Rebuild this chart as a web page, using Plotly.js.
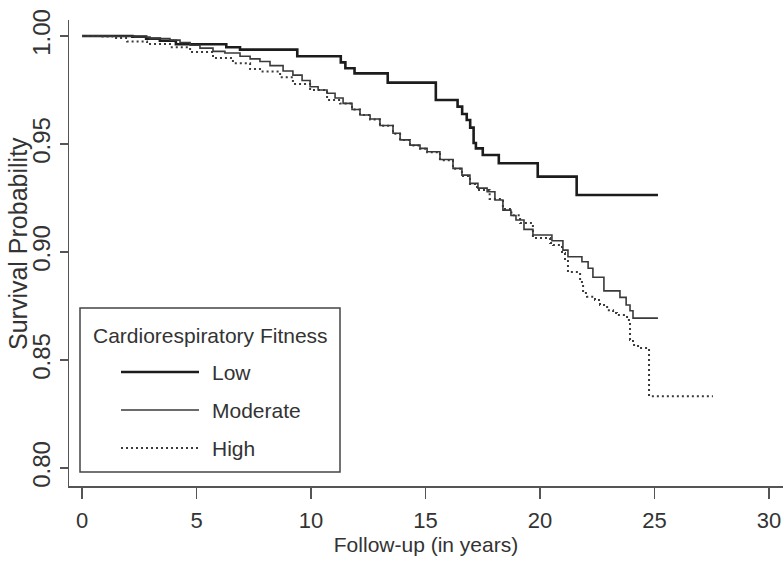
<!DOCTYPE html>
<html>
<head>
<meta charset="utf-8">
<script src="https://cdn.plot.ly/plotly-3.0.1.min.js"></script>
<style>
html,body{margin:0;padding:0;background:#fff;}
#chart{width:783px;height:564px;}
</style>
</head>
<body>
<div id="chart"></div>
<script>
// ---- Data ----
const seriesNames = ['Low', 'Moderate', 'High'];
const legendTitle = 'Cardiorespiratory Fitness';
const xTitle = 'Follow-up (in years)';
const yTitle = 'Survival Probability';

const xTickVals = [0, 5, 10, 15, 20, 25, 30];
const xTickText = ['0', '5', '10', '15', '20', '25', '30'];
const yTickVals = [0.80, 0.85, 0.90, 0.95, 1.00];
const yTickText = ['0.80', '0.85', '0.90', '0.95', '1.00'];

const lowTime = [0, 2.2, 2.8, 3.4, 4.1, 6.3, 6.9, 9.4, 11.3, 11.5, 11.9, 13.35, 15.45, 16.4, 16.6, 16.8, 16.95, 17.1, 17.2, 17.5, 18.2, 19.9, 21.6, 25.15];
const lowSurv = [1.000, 0.9997, 0.9988, 0.9978, 0.9962, 0.9948, 0.9937, 0.9906, 0.9878, 0.9851, 0.9827, 0.9784, 0.9704, 0.9673, 0.9639, 0.9611, 0.9576, 0.9505, 0.9480, 0.9449, 0.9411, 0.9349, 0.9264, 0.9264];

const modTime = [0, 1.22, 2.31, 2.97, 3.84, 4.28, 4.72, 5.15, 5.72, 6.24, 6.90, 7.34, 7.77, 8.21, 8.78, 9.21, 9.61, 9.96, 10.31, 10.70, 11.05, 11.40, 11.79, 12.14, 12.58, 13.01, 13.58, 13.89, 14.32, 14.76, 15.07, 15.63, 16.20, 16.59, 16.94, 17.29, 17.69, 18.03, 18.38, 18.73, 18.95, 19.3, 19.69, 20.52, 21.0, 21.22, 21.83, 22.10, 22.31, 22.79, 23.49, 23.76, 23.93, 24.06, 25.15];
const modSurv = [1.000, 0.9999, 0.9995, 0.9988, 0.9981, 0.9970, 0.9957, 0.9944, 0.9929, 0.9921, 0.9906, 0.9894, 0.9882, 0.9863, 0.9838, 0.9819, 0.9794, 0.9765, 0.9750, 0.9735, 0.9713, 0.9688, 0.9660, 0.9634, 0.9616, 0.9586, 0.9550, 0.9519, 0.9495, 0.9480, 0.9464, 0.9428, 0.9387, 0.9356, 0.9318, 0.9296, 0.9279, 0.9241, 0.9194, 0.9169, 0.9148, 0.9105, 0.9079, 0.9052, 0.9009, 0.8978, 0.8955, 0.8925, 0.8883, 0.8820, 0.8790, 0.8755, 0.8728, 0.8694, 0.8694];

const highTime = [0, 0.79, 1.35, 1.97, 2.84, 3.84, 4.72, 5.72, 6.59, 7.34, 7.77, 8.65, 9.21, 9.96, 10.70, 11.27, 11.79, 12.14, 12.58, 13.01, 13.58, 13.89, 14.32, 14.76, 15.07, 15.63, 16.20, 16.59, 16.94, 17.25, 17.8, 18.38, 18.75, 19.13, 19.69, 20.44, 20.57, 20.96, 21.09, 21.22, 21.75, 21.88, 22.05, 22.4, 22.62, 22.93, 23.19, 23.36, 23.8, 23.93, 24.06, 24.28, 24.76, 27.55];
const highSurv = [1.000, 0.9998, 0.9991, 0.9975, 0.9963, 0.9948, 0.9926, 0.9898, 0.9874, 0.9847, 0.9836, 0.9809, 0.9778, 0.9750, 0.9704, 0.9688, 0.9660, 0.9634, 0.9614, 0.9584, 0.9548, 0.9519, 0.9493, 0.9478, 0.9462, 0.9425, 0.9385, 0.9352, 0.9315, 0.9287, 0.9245, 0.9199, 0.9170, 0.9134, 0.9065, 0.9042, 0.9032, 0.8995, 0.8963, 0.8907, 0.8861, 0.8810, 0.8793, 0.8778, 0.8755, 0.8731, 0.8718, 0.8708, 0.8685, 0.8593, 0.8570, 0.8556, 0.8333, 0.8333];

// ---- Styles ----
const FONT = 'Liberation Sans, Arial, Helvetica, sans-serif';
const TEXT = '#333333';
const lineStyles = [
  {shape: 'hv', color: '#1c1c1c', width: 2.6},
  {shape: 'hv', color: '#3a3a3a', width: 1.6},
  {shape: 'hv', color: '#3a3a3a', width: 2, dash: '2px,3px'}
];
const xs = [lowTime, modTime, highTime];
const ys = [lowSurv, modSurv, highSurv];

const data = seriesNames.map(function (name, i) {
  return {x: xs[i], y: ys[i], name: name, type: 'scatter', mode: 'lines',
          line: lineStyles[i], showlegend: false};
});

// ---- Box legend (R-style) drawn with paper-referenced shapes/annotations ----
const W = 783, H = 564, M = {l: 69, r: 0, t: 20, b: 78};
const pw = W - M.l - M.r, ph = H - M.t - M.b;
function px(x) { return (x - M.l) / pw; }
function py(y) { return (H - M.b - y) / ph; }

const legendBox = {left: 80, right: 340, top: 308, bottom: 472};
const legendTitleY = 335;
const legendItemY = [372, 410, 448];
const legendLineX = [121, 199];
const legendTextX = 210;
const yTitlePos = {x: 18, y: 244};

const shapes = [{
  type: 'rect', xref: 'paper', yref: 'paper', layer: 'above',
  x0: px(legendBox.left), x1: px(legendBox.right), y0: py(legendBox.bottom), y1: py(legendBox.top),
  line: {color: '#444', width: 1.5}, fillcolor: '#ffffff'
}];
const annotations = [{
  xref: 'paper', yref: 'paper', x: px((legendBox.left + legendBox.right) / 2), y: py(legendTitleY),
  xanchor: 'center', yanchor: 'middle', showarrow: false, text: legendTitle,
  font: {family: FONT, size: 21, color: TEXT}
}, {
  // y-axis title (R places it closer to the tick labels than Plotly does)
  xref: 'paper', yref: 'paper', x: px(yTitlePos.x), y: py(yTitlePos.y),
  xanchor: 'center', yanchor: 'middle', showarrow: false, text: yTitle, textangle: -90,
  font: {family: FONT, size: 25, color: TEXT}
}];
seriesNames.forEach(function (name, i) {
  const ls = lineStyles[i];
  shapes.push({
    type: 'line', xref: 'paper', yref: 'paper', layer: 'above',
    x0: px(legendLineX[0]), x1: px(legendLineX[1]), y0: py(legendItemY[i]), y1: py(legendItemY[i]),
    line: {color: ls.color, width: ls.width, dash: ls.dash || 'solid'}
  });
  annotations.push({
    xref: 'paper', yref: 'paper', x: px(legendTextX), y: py(legendItemY[i]),
    xanchor: 'left', yanchor: 'middle', showarrow: false, text: name,
    font: {family: FONT, size: 21, color: TEXT}
  });
});

const layout = {
  width: W, height: H,
  margin: M,
  paper_bgcolor: '#ffffff', plot_bgcolor: '#ffffff',
  font: {family: FONT, color: TEXT},
  showlegend: false,
  xaxis: {
    range: [-0.568, 30.61], tickvals: xTickVals, ticktext: xTickText,
    showgrid: false, zeroline: false, showline: true, linecolor: '#555', linewidth: 1.5,
    ticks: 'outside', ticklen: 11, tickwidth: 1.5, tickcolor: '#555',
    tickfont: {size: 22, color: TEXT}, ticklabelstandoff: 3,
    title: {text: xTitle, font: {size: 21, color: TEXT}, standoff: 0}
  },
  yaxis: {
    range: [0.7917, 1.0074], tickvals: yTickVals, ticktext: yTickText, tickangle: -90,
    showgrid: false, zeroline: false, showline: true, linecolor: '#555', linewidth: 1.5,
    ticks: 'outside', ticklen: 8, tickwidth: 1.5, tickcolor: '#555',
    tickfont: {size: 24, color: TEXT}
  },
  shapes: shapes,
  annotations: annotations
};

Plotly.newPlot('chart', data, layout, {staticPlot: true, displayModeBar: false});
</script>
</body>
</html>
